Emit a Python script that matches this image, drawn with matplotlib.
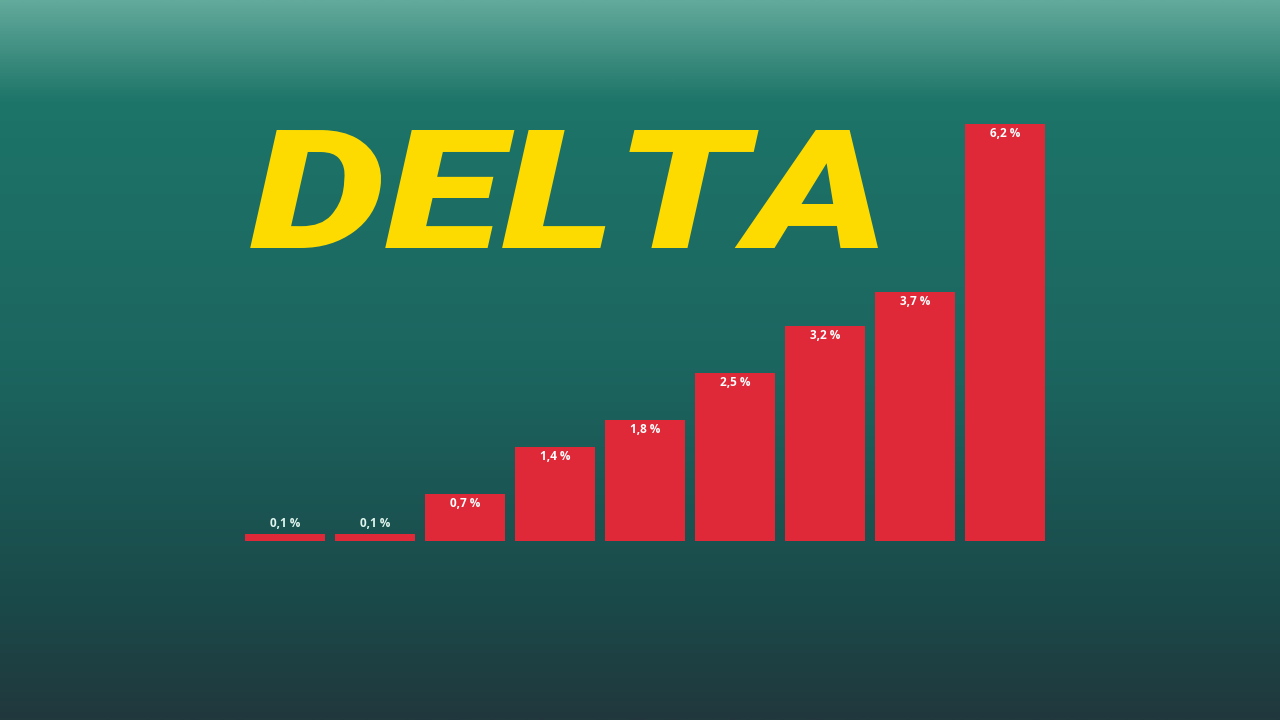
import numpy as np
import matplotlib
matplotlib.use("Agg")
import matplotlib.pyplot as plt
from matplotlib.colors import LinearSegmentedColormap
from matplotlib.patheffects import AbstractPathEffect
from matplotlib.transforms import Affine2D
from matplotlib.textpath import TextPath
from matplotlib.font_manager import FontProperties

# Data
categories = ["1", "2", "3", "4", "5", "6", "7", "8", "9"]
values = [0.1, 0.1, 0.7, 1.4, 1.8, 2.5, 3.2, 3.7, 6.2]
labels = ["0,1 %", "0,1 %", "0,7 %", "1,4 %", "1,8 %", "2,5 %", "3,2 %", "3,7 %", "6,2 %"]
title = "DELTA"

W, H = 1280, 720
DPI = 100
fig = plt.figure(figsize=(W / DPI, H / DPI), dpi=DPI)

# Background gradient
bg = fig.add_axes([0, 0, 1, 1], zorder=0)
stops = [(0.0, "#62aa9b"), (0.14, "#1d7468"), (0.5, "#1c6660"),
         (0.83, "#1a4a4a"), (1.0, "#21383d")]
cmap = LinearSegmentedColormap.from_list("bg", stops)
grad = np.linspace(0, 1, 512).reshape(-1, 1)
bg.imshow(grad, aspect="auto", cmap=cmap, extent=[0, 1, 0, 1], origin="upper")
bg.set_xlim(0, 1); bg.set_ylim(0, 1)
bg.axis("off")

# Bar axes
left, right = 245, 1045
base, top = 541, 124
ax = fig.add_axes([left / W, (H - base) / H, (right - left) / W, (base - top) / H], zorder=1)
ax.patch.set_alpha(0)
x = np.arange(len(values))
bw = 80 / 90
ax.bar(x, values, width=bw, color="#df2838", edgecolor="none")
ax.set_xlim(-bw / 2, len(values) - 1 + bw / 2)
ax.set_ylim(0, max(values))
ax.axis("off")

for xi, v, lab in zip(x, values, labels):
    if v >= 0.5:
        ax.annotate(lab, (xi, v), xytext=(0, -7), textcoords="offset points",
                    ha="center", va="center", color="white", fontsize=8.5,
                    fontweight="bold", family="Open Sans")
    else:
        ax.annotate(lab, (xi, v), xytext=(0, 7.5), textcoords="offset points",
                    ha="center", va="center", color="#dff5ee", fontsize=8.5,
                    fontweight="bold", family="Open Sans")


# Title: heavy italic, stretched horizontally to the reference proportions
class Stretch(AbstractPathEffect):
    def __init__(self, sx, sy, x0, y0):
        super().__init__()
        self.sx, self.sy, self.x0, self.y0 = sx, sy, x0, y0

    def draw_path(self, renderer, gc, tpath, affine, rgbFace=None):
        extra = (Affine2D().translate(-self.x0, -self.y0)
                 .scale(self.sx, self.sy).translate(self.x0, self.y0))
        renderer.draw_path(gc, tpath, affine + extra, rgbFace)


fp = FontProperties(family="Roboto", weight="black", style="italic")
tp = TextPath((0, 0), title, prop=fp, size=100)
v = tp.vertices
xmin, xmax = v[:, 0].min(), v[:, 0].max()
ymax = v[:, 1].max()
k = DPI / 72.0  # px per point
ink_left, ink_right = 250, 878
cap_top, baseline = 130, 248
cap_px = baseline - cap_top
fs = 100 * cap_px / (ymax * k)
scale = fs / 100 * k
sx = (ink_right - ink_left) / ((xmax - xmin) * scale)
x0 = ink_left - sx * xmin * scale
y0 = H - baseline
fig.text(x0 / W, y0 / H, title, color="#fddb00", fontproperties=fp, fontsize=fs,
         ha="left", va="baseline", zorder=2,
         path_effects=[Stretch(sx, 1.0, x0, y0)])

fig.savefig("out.png", dpi=DPI)
